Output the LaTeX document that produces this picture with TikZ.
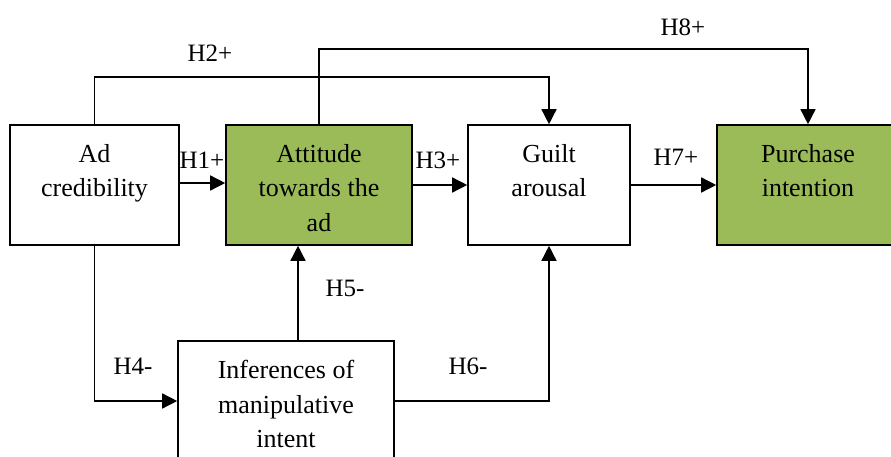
\documentclass[tikz,border=0pt]{standalone}
\usepackage{fontspec}
\setmainfont{Liberation Serif}
\usetikzlibrary{arrows.meta,positioning}
\definecolor{adgreen}{RGB}{155,187,89}

\begin{document}
\begin{tikzpicture}[x=1pt,y=1pt,
  box/.style={draw, line width=1.6pt, minimum height=120pt, inner sep=0pt},
  boxtext/.style={align=center, inner sep=0pt, font=\fontsize{26}{34.5}\selectfont},
  hyp/.style={inner sep=0pt, font=\fontsize{25}{30}\selectfont},
  arr/.style={line width=1.5pt, -{Triangle[length=15pt,width=15pt]}}]
\useasboundingbox (0,0) rectangle (891,456);

% Boxes
\node[box, minimum width=169pt] (ad) at (94.5,271) {};
\node[box, fill=adgreen, minimum width=186pt] (att) at (319,271) {};
\node[box, minimum width=162pt] (guilt) at (549,271) {};
\node[box, fill=adgreen, minimum width=182pt] (purch) at (808,271) {};
\node[box, minimum width=216pt] (inf) at (286,55) {};

% Box texts
\node[boxtext, below=20pt of ad.north] (adtxt) {Ad\\credibility};
\node[boxtext, below=20pt of att.north] (atttxt) {Attitude\\towards the\\ad};
\node[boxtext, below=20pt of guilt.north] (guilttxt) {Guilt\\arousal};
\node[boxtext, below=20pt of purch.north] (purchtxt) {Purchase\\intention};
\node[boxtext, below=20pt of inf.north] (inftxt) {Inferences of\\manipulative\\intent};

% Arrows
\draw[arr] ([yshift=2pt]ad.east) -- ([yshift=2pt]att.west);
\draw[arr] (att.east) -- (guilt.west);
\draw[arr] (guilt.east) -- (purch.west);
\draw[arr] (ad.north) -- ++(0,47) -| (guilt.north);
\draw[arr] (att.north) -- ++(0,75) -| (purch.north);
\draw[arr] (ad.south) |- (inf.west);
\draw[arr] ([xshift=12pt]inf.north) -- ([xshift=12pt]inf.north |- att.south);
\draw[arr] (inf.east) -| (guilt.south);

% Hypotheses
\node[hyp] (h1) at (202,296) {H1+};
\node[hyp] (h2) at (210,403) {H2+};
\node[hyp] (h3) at (438,296) {H3+};
\node[hyp] (h4) at (133,90) {H4-};
\node[hyp] (h5) at (345,168) {H5-};
\node[hyp] (h6) at (468,90) {H6-};
\node[hyp] (h7) at (676,299) {H7+};
\node[hyp] (h8) at (683,429) {H8+};
\end{tikzpicture}
\end{document}
